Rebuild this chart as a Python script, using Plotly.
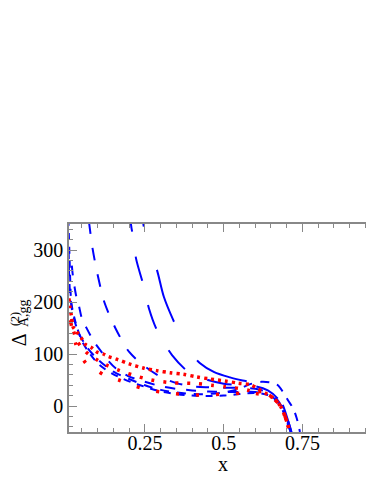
import plotly.graph_objects as go

# ---- data ----
bD_x = [0.236, 0.245, 0.265, 0.288, 0.31, 0.34, 0.38, 0.425, 0.47, 0.52, 0.56, 0.6, 0.63, 0.66, 0.685, 0.70, 0.715]
bD_y = [450, 350, 300, 262, 210, 165, 115, 82, 65, 55, 49, 44, 38, 25, 5, -20, -50]

bC_x = [0.203, 0.206, 0.214, 0.222, 0.244, 0.263, 0.288, 0.336, 0.393, 0.45, 0.50, 0.55, 0.60, 0.64, 0.67, 0.69, 0.705, 0.715]
bC_y = [383, 348, 320, 283, 235, 187, 146, 98, 63, 50, 43, 40, 38, 30, 15, -5, -30, -50]

bB_x = [0.072, 0.084, 0.10, 0.121, 0.156, 0.20, 0.25, 0.30, 0.35, 0.40, 0.45, 0.50, 0.55, 0.60, 0.64, 0.67, 0.69, 0.705, 0.712]
bB_y = [356, 302, 252, 200, 150, 104, 76, 56, 44, 38, 36, 35, 35, 33, 26, 12, -8, -34, -50]

bF_x = [0.018, 0.021, 0.031, 0.04, 0.05, 0.063, 0.087, 0.116, 0.132, 0.158, 0.195, 0.243, 0.30, 0.35, 0.40, 0.45, 0.50, 0.55, 0.60, 0.64, 0.67, 0.69, 0.705, 0.713]
bF_y = [270, 252, 214, 194, 168, 152, 125, 101, 88, 72, 58, 48, 38, 33, 30, 28, 27, 27, 27, 22, 10, -10, -35, -50]

bE_x = [0.007, 0.009, 0.011, 0.013, 0.016, 0.025, 0.035, 0.05, 0.07, 0.10, 0.13, 0.17, 0.21, 0.26, 0.30, 0.35, 0.40, 0.45, 0.50, 0.55, 0.60, 0.64, 0.67, 0.69, 0.705, 0.713]
bE_y = [360, 320, 280, 240, 200, 172, 150, 125, 105, 82, 68, 55, 45, 35, 28, 23, 20, 19, 20, 23, 25, 21, 8, -12, -38, -50]

bH_x = [0.008, 0.009, 0.012, 0.02, 0.04, 0.07, 0.10, 0.15, 0.20, 0.25, 0.30, 0.35, 0.40, 0.45, 0.50, 0.55, 0.584, 0.62, 0.65, 0.672, 0.688, 0.705, 0.72, 0.732, 0.742]
bH_y = [300, 260, 220, 180, 140, 110, 90, 66, 52, 40, 31, 26, 23, 23, 26, 33, 42, 46.5, 45, 40, 27, 10, -4, -24, -50]

r1_x = [0.009, 0.012, 0.017, 0.022, 0.033, 0.049, 0.06, 0.081, 0.097, 0.118, 0.134, 0.16, 0.20, 0.245, 0.287, 0.33, 0.372, 0.414, 0.456, 0.504, 0.546, 0.584, 0.61, 0.64, 0.66, 0.68, 0.695, 0.71]
r1_y = [207, 190, 172, 152, 143, 130, 119, 112, 104, 100, 95, 90, 81, 73, 68, 64, 61, 56, 52, 48, 44, 41, 33, 22, 14, 0, -21, -50]

r2_x = [0.012, 0.02, 0.035, 0.05, 0.07, 0.10, 0.13, 0.17, 0.22, 0.27, 0.33, 0.37, 0.416, 0.46, 0.504, 0.546, 0.58, 0.60, 0.62, 0.64, 0.66, 0.68, 0.695, 0.71]
r2_y = [165, 150, 125, 112, 100, 88, 78, 68, 58, 50, 45, 44, 43, 40, 37, 34, 30, 26, 28, 22, 14, 0, -20, -50]

r3_x = [0.015, 0.03, 0.063, 0.089, 0.12, 0.167, 0.22, 0.28, 0.34, 0.40, 0.46, 0.515, 0.56, 0.60, 0.64, 0.67, 0.69, 0.705, 0.712]
r3_y = [160, 120, 82, 72, 60, 50, 38, 29, 24, 21, 22, 23, 25, 24, 20, 8, -12, -40, -50]

x_ticks = [0.25, 0.5, 0.75]
x_labels = ["0.25", "0.5", "0.75"]
y_ticks = [0, 100, 200, 300]
y_labels = ["0", "100", "200", "300"]

BLUE = "#0000ff"
RED = "#ff0000"

fig = go.Figure()

def add(x, y, color, width, dash):
    fig.add_trace(go.Scatter(x=x, y=y, mode="lines",
                             line=dict(color=color, width=width, dash=dash, shape="spline", smoothing=0.8),
                             hoverinfo="skip", showlegend=False))

add(bD_x, bD_y, BLUE, 2, "55px,45px")
add(bC_x, bC_y, BLUE, 2, "25px,25px")
add(bB_x, bB_y, BLUE, 2, "13px,14px")
add(bF_x, bF_y, BLUE, 2, "10px,11px")
add(bE_x, bE_y, BLUE, 2, "7px,7px")
add(bH_x, bH_y, BLUE, 2, "9px,8px")
add(r1_x, r1_y, RED, 3.5, "3px,4px")
add(r2_x, r2_y, RED, 3.5, "3px,9px")
add(r3_x, r3_y, RED, 3.5, "3px,17px")

axis_font = dict(family="Liberation Serif", size=20, color="black")
GREY = "#888888"

# page body has an 8px margin: figure is sized so that it fits the 374x484 window
W, H = 366, 468
L, R, T, B = 61, 0, 216, 44

fig.update_layout(
    width=W, height=H,
    margin=dict(l=L, r=R, t=T, b=B, autoexpand=False),
    paper_bgcolor="white", plot_bgcolor="white",
    showlegend=False,
    xaxis=dict(range=[0.009, 0.977], tickvals=x_ticks, ticktext=x_labels,
               showgrid=False, zeroline=False, showline=True, linecolor=GREY, linewidth=1.5,
               mirror="allticks", ticks="inside", ticklen=8, tickcolor=GREY,
               minor=dict(ticks="inside", dtick=0.05, tick0=0, ticklen=4, tickcolor=GREY),
               tickfont=axis_font, ticklabelstandoff=-8, automargin=False),
    yaxis=dict(range=[-50, 350], tickvals=y_ticks, ticktext=y_labels,
               showgrid=False, zeroline=False, showline=True, linecolor=GREY, linewidth=1.5,
               mirror=False, ticks="inside", ticklen=8, tickcolor=GREY,
               minor=dict(ticks="inside", dtick=20, tick0=0, ticklen=4, tickcolor=GREY),
               tickfont=axis_font, automargin=False),
)

PW, PH = W - L - R, H - T - B

def px_x(X):  # X in screen pixels (window)
    return (X - 8 - L) / PW

def px_y(Y):
    return (H - B - (Y - 8)) / PH

fig.add_annotation(text="Δ", x=px_x(19.3), y=px_y(340), xref="paper", yref="paper",
                   showarrow=False, textangle=-90, font=dict(family="Liberation Serif", size=20, color="black"),
                   xanchor="center", yanchor="middle")
fig.add_annotation(text="(2)", x=px_x(15), y=px_y(328), xref="paper", yref="paper",
                   showarrow=False, textangle=-90, font=dict(family="Liberation Serif", size=12, color="black"),
                   xanchor="center", yanchor="bottom")
fig.add_annotation(text="A,gg", x=px_x(23), y=px_y(329), xref="paper", yref="paper",
                   showarrow=False, textangle=-90, font=dict(family="Liberation Serif", size=14, color="black"),
                   xanchor="center", yanchor="bottom")
fig.add_annotation(text="x", x=px_x(223), y=px_y(464), xref="paper", yref="paper",
                   showarrow=False, font=axis_font, xanchor="center", yanchor="middle")

fig.write_html("out.html")
